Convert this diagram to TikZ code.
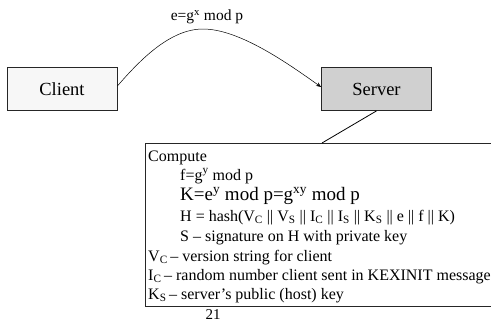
\documentclass[tikz,border=0pt]{standalone}
\usepackage{fontspec}
\setmainfont{Liberation Serif}
\usetikzlibrary{arrows.meta}
\definecolor{clientfill}{HTML}{F7F7F7}
\definecolor{serverfill}{HTML}{D0D0D0}
\begin{document}
\begin{tikzpicture}[x=1pt,y=-1pt,
  boxlbl/.style={draw=black!85, line width=0.8pt, minimum width=110pt, minimum height=43pt, inner sep=0pt, font=\fontsize{18.5}{22}\selectfont},
  txt/.style={anchor=base west, inner sep=0pt, font=\fontsize{16}{19}\selectfont},
  bigtxt/.style={anchor=base west, inner sep=0pt, font=\fontsize{19}{22}\selectfont}]
\useasboundingbox (0,0) rectangle (491,322);
\node[boxlbl, fill=clientfill] (client) at (62,89) {Client};
\node[boxlbl, fill=serverfill] (server) at (376.5,89) {Server};
\draw[line width=0.5pt, -{Stealth[length=5pt,width=4pt]}]
  ([yshift=3pt]client.east) .. controls (140,60) and (170,29) .. (203,29)
  .. controls (240,29) and (290,65) .. ([yshift=2pt]server.west);
\node[font=\fontsize{15.5}{18}\selectfont, inner sep=0pt] (lbl) at (207,17) {e=g\textsuperscript{x} mod p};
\begin{scope}
\clip (0,0) rectangle (491,322);
\draw[line width=0.8pt, draw=black!85] (145,143) rectangle (500,306);
\end{scope}
\coordinate (tip) at (322,143);
\draw[line width=0.8pt] (server.south) -- (tip);
\node[txt] (l1) at (148,161) {Compute};
\node[txt] (l2) at (180,180) {f=g\textsuperscript{y} mod p};
\node[bigtxt] (l3) at (180,200) {K=e\textsuperscript{y} mod p=g\textsuperscript{xy} mod p};
\node[txt] (l4) at (180,221) {H = hash(V\textsubscript{C} || V\textsubscript{S} || I\textsubscript{C} || I\textsubscript{S} || K\textsubscript{S} || e || f || K)};
\node[txt] (l5) at (180,241) {S -- signature on H with private key};
\node[txt] (l6) at (148,261) {V\textsubscript{C}\,-- version string for client};
\node[txt] (l7) at (148,280) {I\textsubscript{C}\,-- random number client sent in KEXINIT message};
\node[txt] (l8) at (148,299) {K\textsubscript{S}\,-- server’s public (host) key};
\node[font=\fontsize{15}{18}\selectfont, anchor=base, inner sep=0pt] (pg) at (213,319) {21};
\end{tikzpicture}
\end{document}
